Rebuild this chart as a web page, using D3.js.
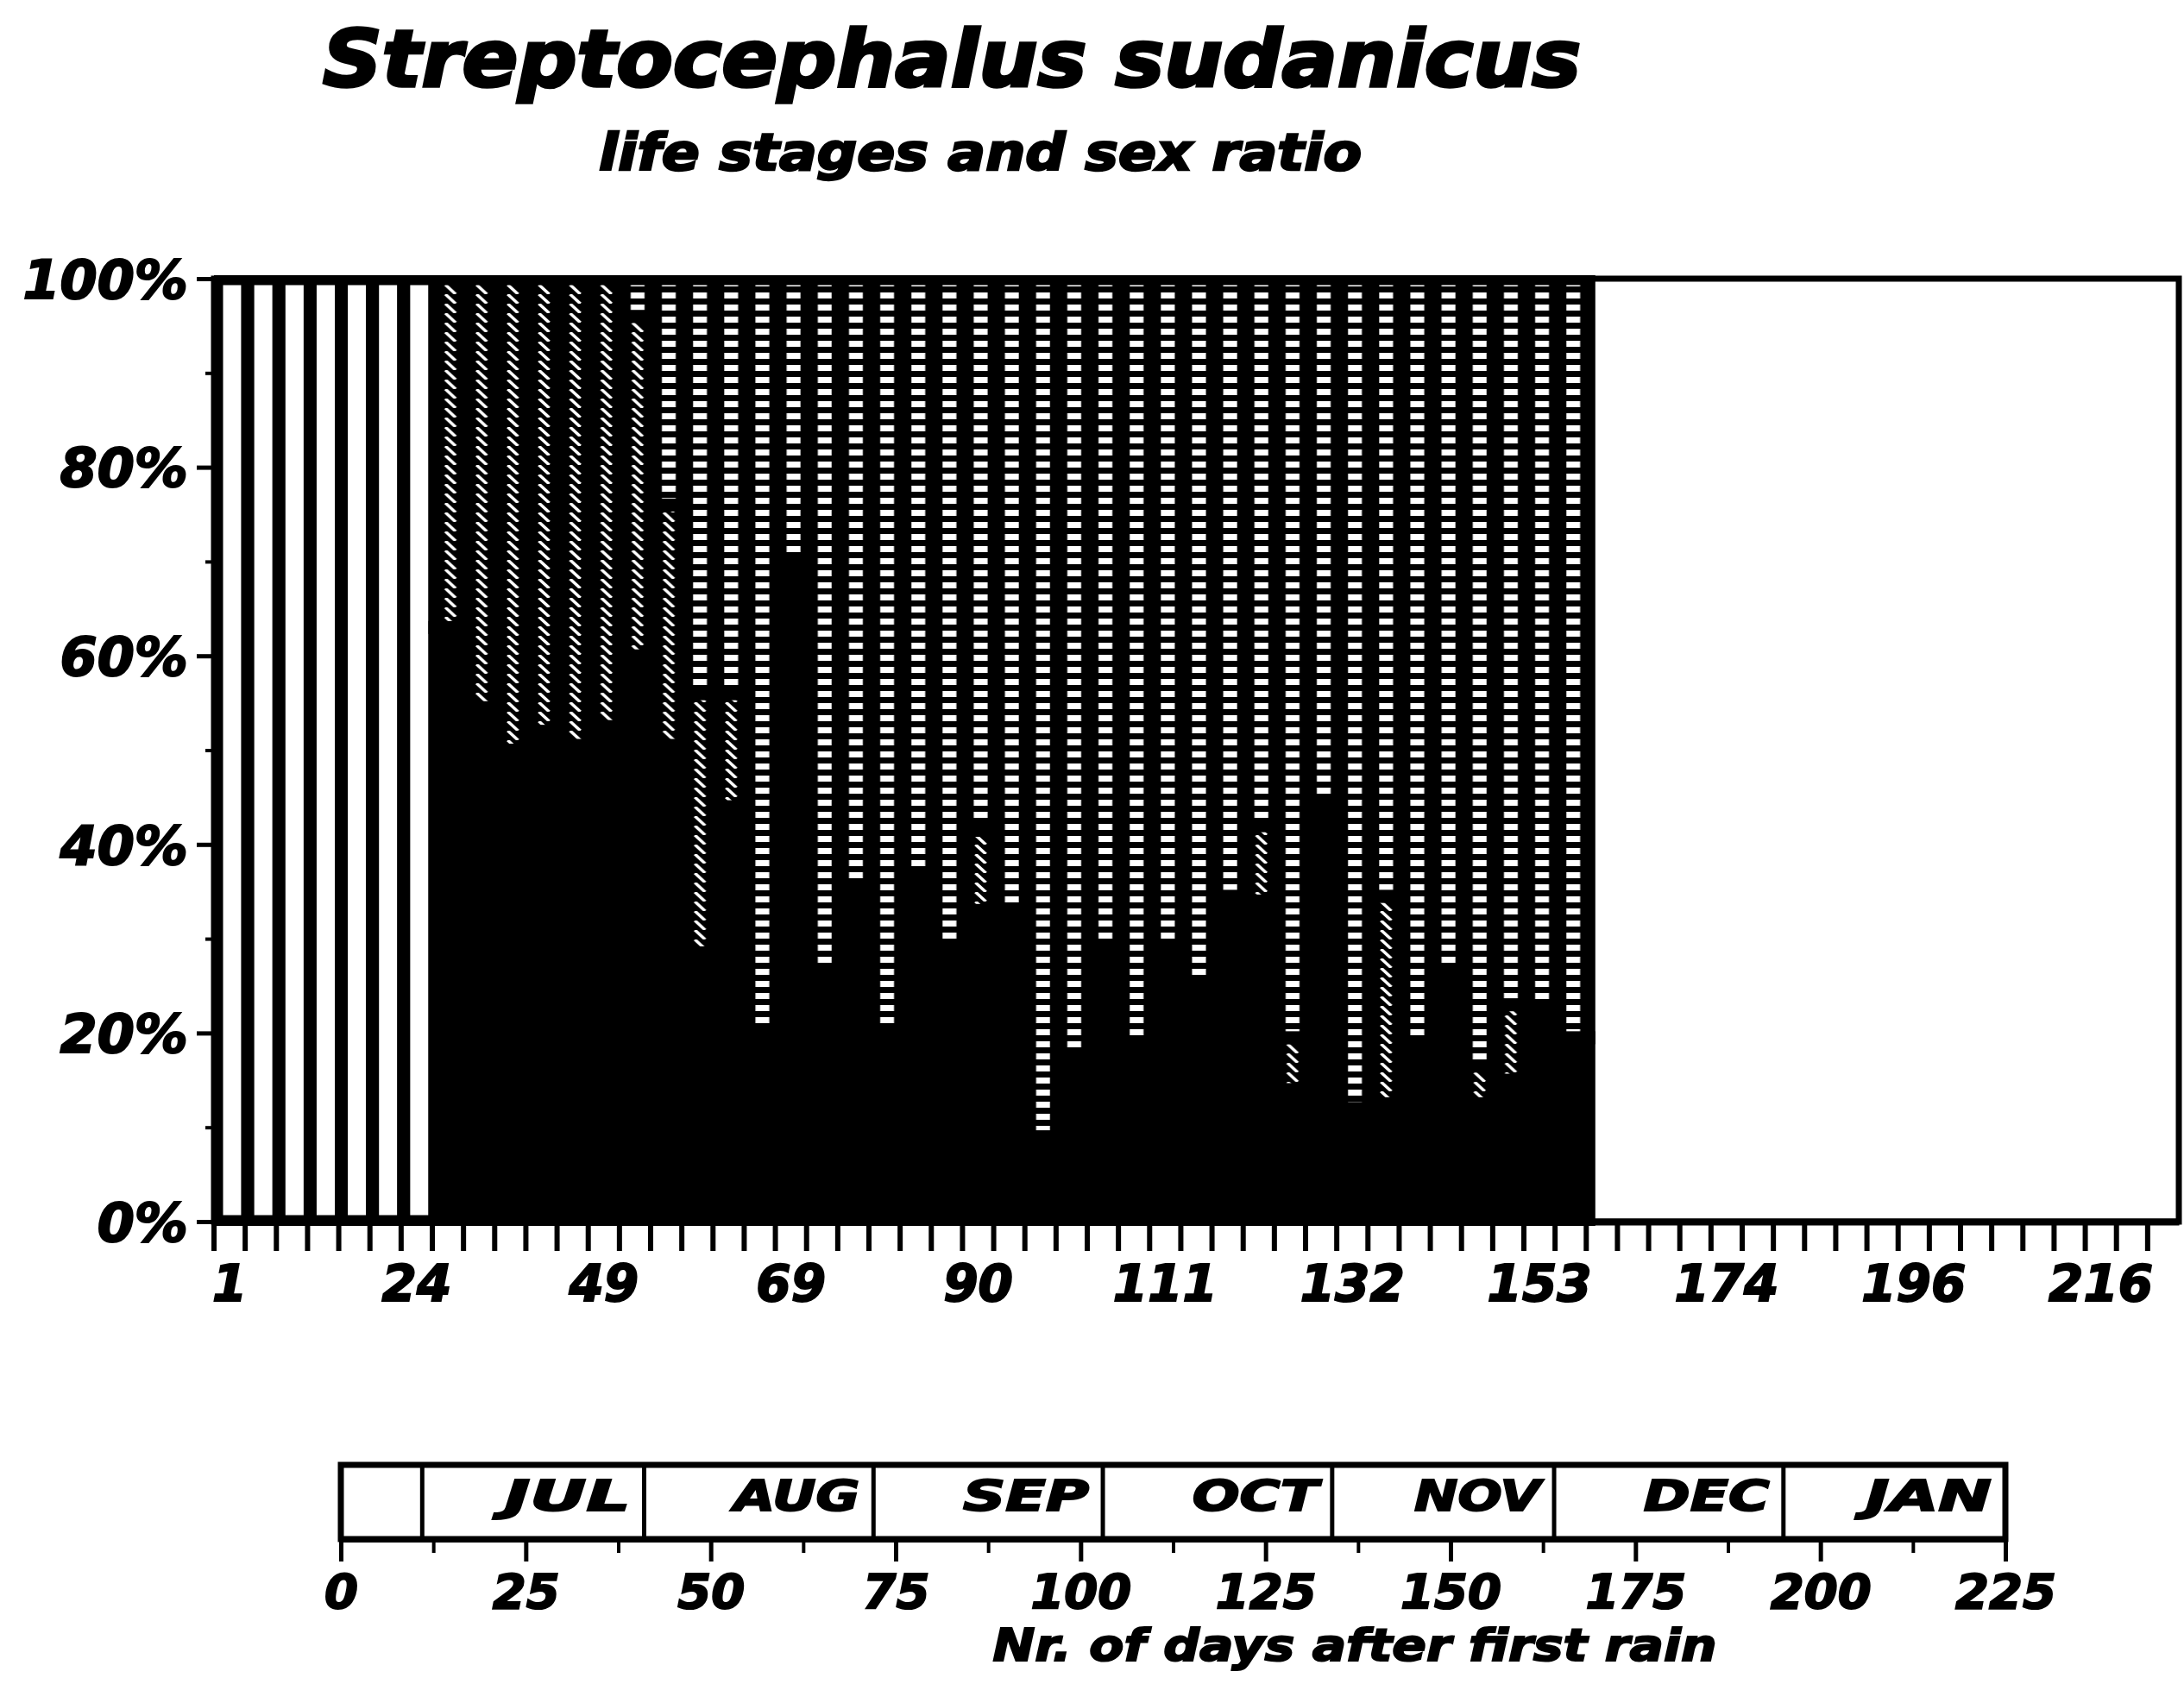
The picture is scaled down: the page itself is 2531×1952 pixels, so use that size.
<!DOCTYPE html>
<meta charset="utf-8">
<style>
body { margin: 0; background: #fff; }
svg text { font-family: "DejaVu Sans", sans-serif; font-weight: bold; font-style: italic; fill: #000; }
</style>
<body>
<div id="chart"></div>
<script src="https://d3js.org/d3.v7.min.js"></script>
<script>

// sampling days (one bar each), every 6th one is labelled
var days = [1,5,8,12,16,20,24, 28,32,36,40,45,49, 52,56,59,62,66,69, 73,76,80,83,87,90,
            94,97,101,104,108,111, 115,118,122,125,129,132, 136,139,143,146,150,153,
            157,160,164,167,171,174, 178,181,185,189,192,196, 199,203,206,209,213,216, 220,223];

// percentages per sampled day (only the first 44 days have samples)
var nauplii   = [100,100,100,100,100,100,100, 0,0,0,0,0,0,0,0,0,0,0,0,0,0,0,0,0,0,0,0,0,0,0,0,0,0,0,0,0,0,0,0,0,0,0,0,0,0];
var juveniles = [0,0,0,0,0,0,0, 63,54.5,50,52,50.5,52.5,60,50.5,28.5,44,20,70,26.5,35.5,20,36.5,29,33,33,9,17.5,29,19,29,25,34.5,34,14,44.5,12,12.5,18.5,26.5,12.5,15,22.5,19.5];
var females   = [0,0,0,0,0,0,0, 37,45.5,50,48,49.5,47.5,36,25.5,27.5,12,0,0,0,0,0,0,0,8.5,0,0,0,0,0,0,0,0,8,5.5,0,0,22,0,0,4,8,0,0];
var males     = [0,0,0,0,0,0,0, 0,0,0,0,0,0,4,24,44,44,80,30,73.5,64.5,80,63.5,71,58.5,67,91,82.5,71,81,71,75,65.5,58,80.5,55.5,88,65.5,81.5,73.5,83.5,77,77.5,80.5];

var yMajor = [0,20,40,60,80,100];
var yMinor = [10,30,50,70,90];

// month strip under the chart
var monthNames  = ["", "JUL", "AUG", "SEP", "OCT", "NOV", "DEC", "JAN"];
var monthStarts = [0, 11, 41, 72, 103, 134, 164, 195];
var dayEnd = 225;
var dayMajor = [0,25,50,75,100,125,150,175,200,225];
var dayMinor = [12.5,37.5,62.5,87.5,112.5,137.5,162.5,187.5,212.5];

var svg = d3.select("#chart").append("svg").attr("width", 2531).attr("height", 1952);

var x = d3.scaleBand().domain(days).range([248, 2525]).padding(0);
var y = d3.scaleLinear().domain([0, 100]).range([1416, 323]);
var bw = x.bandwidth();

// fill patterns
var defs = svg.append("defs");
var hatch = defs.append("pattern").attr("id", "hatch").attr("patternUnits", "userSpaceOnUse")
    .attr("x", x.range()[0] + 3).attr("y", 0).attr("width", bw).attr("height", 11);
hatch.append("rect").attr("width", bw).attr("height", 11).attr("fill", "#000");
hatch.append("line").attr("x1", bw/2 - 6).attr("y1", 0).attr("x2", bw/2 + 6).attr("y2", 11)
    .attr("stroke", "#fff").attr("stroke-width", 3.5);

var dash = defs.append("pattern").attr("id", "dash").attr("patternUnits", "userSpaceOnUse")
    .attr("x", x.range()[0] + 3).attr("y", 0).attr("width", bw).attr("height", 14);
dash.append("rect").attr("width", bw).attr("height", 14).attr("fill", "#000");
dash.append("rect").attr("x", bw/2 - 8).attr("y", 3).attr("width", 16).attr("height", 7).attr("fill", "#fff");

defs.append("clipPath").attr("id", "plotclip").append("rect")
    .attr("x", 248).attr("y", 319).attr("width", 2277).attr("height", 1102);

var keys = ["nauplii", "juveniles", "females", "males"];
var fills = {nauplii: "#fff", juveniles: "#000", females: "url(#hatch)", males: "url(#dash)"};

var rows = nauplii.map(function(v, i) {
    return {day: days[i], nauplii: nauplii[i], juveniles: juveniles[i], females: females[i], males: males[i]};
});
var series = d3.stack().keys(keys)(rows);

var bars = svg.append("g").attr("clip-path", "url(#plotclip)");
bars.selectAll("g").data(series).join("g")
    .attr("fill", function(s) { return fills[s.key]; })
  .selectAll("rect").data(function(s) { return s.filter(function(d) { return d[1] - d[0] > 0; }); })
  .join("rect")
    .attr("x", function(d) { return x(d.data.day) + 3; })
    .attr("width", bw)
    .attr("y", function(d) { return y(d[1]); })
    .attr("height", function(d) { return y(d[0]) - y(d[1]); })
    .attr("stroke", "#000")
    .attr("stroke-width", 15);

// plot frame
svg.append("rect").attr("x", 248).attr("y", y(100)).attr("width", 2525 - 248).attr("height", y(0) - y(100))
    .attr("fill", "none").attr("stroke", "#000").attr("stroke-width", 7);

// y axis
var yAxis = svg.append("g").attr("transform", "translate(248,0)")
    .call(d3.axisLeft(y).tickValues(yMajor).tickFormat(function(d) { return d + "%"; })
          .tickSize(20).tickSizeOuter(0).tickPadding(10));
yAxis.select(".domain").attr("stroke-width", 7);
yAxis.selectAll(".tick line").attr("stroke-width", 5);
yAxis.selectAll("text").attr("font-size", 62).attr("stroke", "#000").attr("stroke-width", 2)
    .attr("font-family", null).attr("dy", "0.36em");

var yAxisMinor = svg.append("g").attr("transform", "translate(248,0)")
    .call(d3.axisLeft(y).tickValues(yMinor).tickFormat("").tickSize(10).tickSizeOuter(0));
yAxisMinor.select(".domain").remove();
yAxisMinor.selectAll(".tick line").attr("stroke-width", 4);

// x axis (category ticks at bar boundaries)
var xAxis = svg.append("g").attr("transform", "translate(0," + y(0) + ")")
    .call(d3.axisBottom(x).tickSize(34).tickSizeOuter(0)
          .tickFormat(function(d, i) { return i % 6 === 0 ? d : ""; }));
xAxis.select(".domain").attr("stroke-width", 8);
xAxis.selectAll(".tick line").attr("transform", "translate(" + (-bw/2) + ",0)").attr("stroke-width", 6);
xAxis.selectAll("text").attr("font-size", 58).attr("font-family", null)
    .attr("stroke", "#000").attr("stroke-width", 2).attr("y", 92).attr("dy", 0);

// titles
svg.append("text").attr("x", 1103).attr("y", 100).attr("text-anchor", "middle")
    .attr("font-size", 90).attr("textLength", 1458).attr("lengthAdjust", "spacingAndGlyphs")
    .attr("stroke", "#000").attr("stroke-width", 3.5)
    .text("Streptocephalus sudanicus");
svg.append("text").attr("x", 1136).attr("y", 197).attr("text-anchor", "middle")
    .attr("font-size", 58).attr("textLength", 884).attr("lengthAdjust", "spacingAndGlyphs")
    .attr("stroke", "#000").attr("stroke-width", 2.5)
    .text("life stages and sex ratio");

// month strip
var t = d3.scaleLinear().domain([0, dayEnd]).range([395, 2324]);
var strip = svg.append("g");
strip.append("rect").attr("x", t(0)).attr("y", 1698).attr("width", t(dayEnd) - t(0)).attr("height", 86)
    .attr("fill", "none").attr("stroke", "#000").attr("stroke-width", 7);
strip.selectAll("line.div").data(monthStarts.slice(1)).join("line").attr("class", "div")
    .attr("x1", function(d) { return t(d); }).attr("x2", function(d) { return t(d); })
    .attr("y1", 1698).attr("y2", 1784).attr("stroke", "#000").attr("stroke-width", 5);
strip.selectAll("text").data(monthNames.filter(function(d) { return d !== ""; })).join("text")
    .attr("x", function(d) { var k = monthNames.indexOf(d); return t(k + 1 < monthStarts.length ? monthStarts[k + 1] : dayEnd) - 16; })
    .attr("y", 1751).attr("text-anchor", "end")
    .attr("font-size", 50).attr("textLength", 146).attr("lengthAdjust", "spacingAndGlyphs")
    .attr("stroke", "#000").attr("stroke-width", 2)
    .text(function(d) { return d; });

var dAxis = svg.append("g").attr("transform", "translate(0,1784)")
    .call(d3.axisBottom(t).tickValues(dayMajor).tickFormat(d3.format("d")).tickSize(26).tickSizeOuter(0));
dAxis.select(".domain").attr("stroke-width", 7);
dAxis.selectAll(".tick line").attr("stroke-width", 5);
dAxis.selectAll("text").attr("font-size", 56).attr("font-family", null)
    .attr("stroke", "#000").attr("stroke-width", 2).attr("y", 80).attr("dy", 0);
var dAxisMinor = svg.append("g").attr("transform", "translate(0,1784)")
    .call(d3.axisBottom(t).tickValues(dayMinor).tickFormat("").tickSize(16).tickSizeOuter(0));
dAxisMinor.select(".domain").remove();
dAxisMinor.selectAll(".tick line").attr("stroke-width", 4);

svg.append("text").attr("x", 1570).attr("y", 1925).attr("text-anchor", "middle")
    .attr("font-size", 52).attr("textLength", 839).attr("lengthAdjust", "spacingAndGlyphs")
    .attr("stroke", "#000").attr("stroke-width", 2)
    .text("Nr. of days after first rain");

</script>
</body>
</html>
